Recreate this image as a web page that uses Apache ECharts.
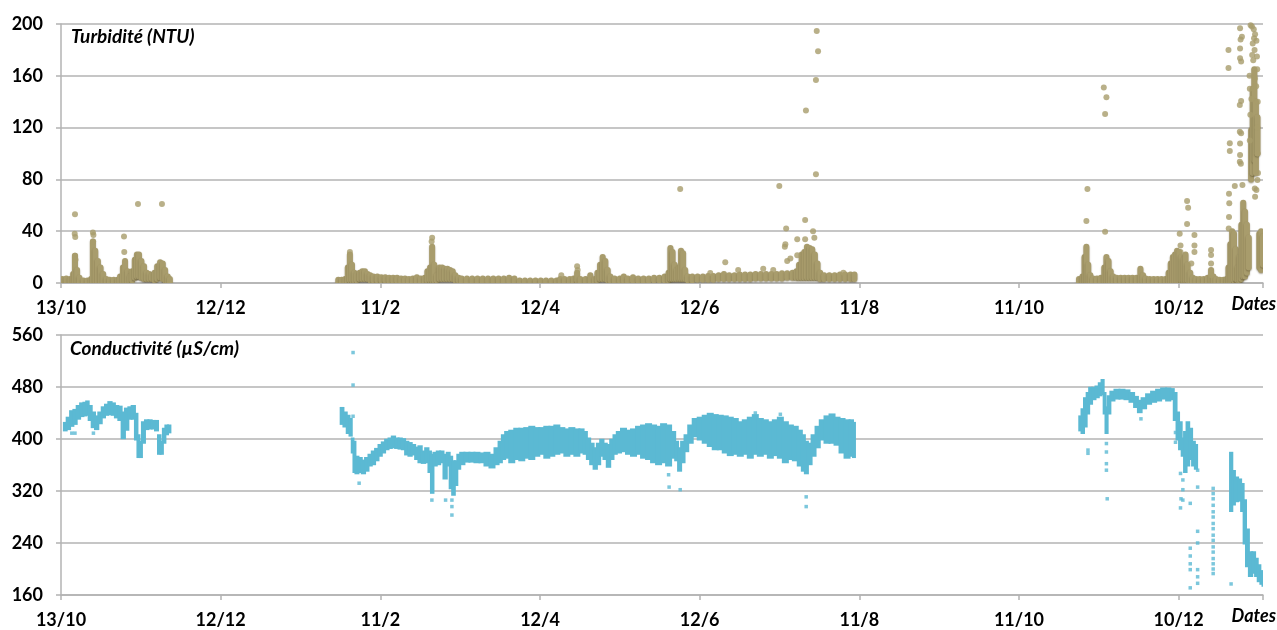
<!DOCTYPE html>
<html>
<head>
<meta charset="utf-8">
<script src="https://cdn.jsdelivr.net/npm/echarts@6/dist/echarts.min.js"></script>
<style>
html,body{margin:0;padding:0;background:#fff;}
#chart{width:1277px;height:630px;}
</style>
</head>
<body>
<div id="chart"></div>
<script>
// x values are days since 13/10
const xTickLabels = ['13/10','12/12','11/2','12/4','12/6','11/8','11/10','10/12'];
const xStep = 60.57;
const xMax = 456;
const turbTicks = [0, 200, 40];
const condTicks = [160, 560, 80];

// Turbidity: dense columns of dots [day, low, high]
const turbidityRanges = [
[0.5,1,3],[2,1,3.5],[3.5,1,3],[4.6,1,7],[5.3,1,21],[6.1,1,10],[7,0.5,4],[8.5,0.5,2],[10,0.5,2],[11.4,0.5,3],
[12.1,1,32],[13,1,25],[14,1,17],[15,1,12],[16,0.5,7],[17.2,0.5,3],[18.5,0.5,2.5],[20,0.5,2.5],[21.5,0.5,2.5],
[22.4,1,5],[23.5,1,12],[24.3,1,17],[25.3,1,9],[26.2,1,5],[27,2,9],[28,4,18],[28.8,5,22],[29.6,5,22],[30.5,4,17],
[31.5,3,13],[32.5,3,8],[33.5,3,7],[34.5,3,6],[35.5,2,8],[36.5,3,13],[37.6,4,16],[38.6,3,15],[39.5,2,10],[40.5,1,5],[41.3,1,3],
[105.2,0.5,2.5],[106.5,0.5,2.5],[107.8,0.5,3],[108.8,1,12],[109.6,2,22],[110.4,2,14],[111.3,2,8],[112.3,2,7],[113.3,3,8],
[114.3,3,9],[115.3,3,9],[116.3,3,7],[117.3,2,6],[118.5,2,5],[120,2,5],[121.5,2,4.5],[123,2,4.5],[124.5,1.5,4],[126,1.5,4],
[127.5,1.5,4],[129,1,3.5],[130.5,1,3.5],[132,0.5,3],[133.5,0.5,3.5],[135,1,4.5],[136.5,1,3.5],[138,1,4],[139,2,9],[140,2,12],
[140.8,2,28],[141.6,2,14],[142.6,2,6],[143.6,3,12],[144.6,3,12],[145.6,3,11],[146.6,3,11],[147.6,3,10],[148.6,3,9],[149.6,2,6],
[150.8,2,4],[152,1,3.5],[154,1,3.5],[156,1,3.5],[158,1,3.5],[160,1,3.5],[162,1,3.5],[164,1,3.5],[166,1,3.5],[168,1,3.5],
[170,1,4],[172,1,3.5],[174,0,2],[176,0,2],[178,0,2],[180,0,2],[182,0,2],[184,0,2],[186,0,2],[188,0,2],[189.4,1,3],
[191,1,3],[193,1,3],[194.5,1,3.5],[195.8,2,8],[197,1,3],[199,1,3],[200.8,1,6],[202.5,1,3],[203.5,2,8],[204.5,3,14],
[205.5,3,20],[206.5,3,17],[207.4,2,10],[208.4,2,5],[210,1.5,3.5],[212,1.5,3.5],[213.5,1.5,5],[215,1.5,3.5],[217,1.5,4.5],
[219,1.5,3.5],[221,1.5,3.5],[223,1.5,3.5],[225,2,4],[227,2,4],[229,2,5],[230.5,2,8],[231.2,3,27],[232,3,24],[232.8,3,14],
[233.6,3,10],[234.5,3,12],[235.2,3,25],[236,3,23],[236.8,3,10],[237.8,2,5],[239.5,2,5],[241.5,2.5,5],[243.5,2.5,5],
[245.5,2.5,5.5],[247.5,2.5,5.5],[249.5,3,6],[251.5,3,7],[253.5,3,6],[255.5,3,6],[257.5,3,6.5],[259.5,3,6.5],[261.5,3,6.5],
[263.5,3.5,7],[265.5,3.5,7],[267.5,3.5,7],[269.5,3.5,7],[271.5,3.5,7],[273.5,3.5,7.5],[275.5,4,7.5],[277.5,4,8],[279,4,9],
[280,4,14],[281,4,22],[282,4,24],[283,4,28],[284,4,27],[285,4,26],[286,4,22],[287,4,15],[288,3,8],[289.5,3,6],[291.5,3,6],
[293.5,3,6],[295.5,3,6.5],[297.5,3,6.5],[299.5,3,6.5],[301,3,6.5],
[386.2,0.5,3],[387.5,1,5],[388.3,1,20],[389,1,28],[389.7,1,14],[390.5,1,6],[391.5,0.5,3.5],[393,0.5,3.5],[394.5,1,4],
[395.8,1,12],[396.6,1,20],[397.4,1,17],[398.2,1,9],[399.2,1,5],[400.5,1.5,4],[402,1.5,4],[403.5,1.5,4],[405,1.5,4],
[406.5,1,4],[408,1,4],[409.5,1,11],[410.5,1,6],[411.5,1,3.5],[413,0.5,3],[414.5,0.5,3],[416,0.5,3],[417.5,0.5,3],[419,0.5,3],
[420.2,1,8],[421,1,15],[421.8,1,20],[422.6,1,22],[423.4,1,25],[424.2,1,24],[425,2,20],[425.8,2,18],[426.6,2,22],[427.4,2,14],
[428.4,1,8],[429.4,1,4],[430.6,0.5,3],[432,0.5,3],[433.5,0.5,3],[435,0.5,4],[436.3,1,10],[437.2,0.5,5],[438.2,0.5,3],
[439.6,0,2.5],[441,0,2.5],[442.2,0,3],
[442.9,0,12],[443.6,0,30],[444.3,1,40],[445,2,38],[445.7,3,26],[446.4,2,12],[447.1,2,20],[447.8,3,45],[448.5,5,62],
[449.2,5,55],[449.9,8,45],[450.6,12,35],[451.5,80,118],[452.1,85,150],[452.7,95,165],[453.3,85,140],[453.9,100,128],
[454.6,12,38],[455.3,10,40],[456,14,36]
];
// Turbidity: isolated dots [day, NTU]
const turbidityPoints = [
[5.3,53],[5.2,38],[5.4,35.5],[5.3,21],[5.5,18],[12.1,39],[12.3,37],[12.2,32],[23.9,36],[24,24],[29.2,61],[38.3,61],
[109.6,24],[140.8,35],[140.6,32],[189.8,6],[195.8,13],[196,10],[234.9,72.5],[252,16],[256.9,10],[266.4,11],[270.2,10],
[272.5,75],[274.6,28],[274.8,30],[275.1,42],[275.5,17],[276.7,19],[279.3,33.7],[279.3,21.4],[282.3,48.6],[282.3,33.7],
[282.6,133.3],[285.3,40],[285.8,35],[286.4,84],[286.4,156.8],[286.7,194.6],[287.2,179],[296.8,8],[246.3,7.7],
[389.4,72.6],[389,47.9],[395.6,151],[396.6,143.4],[396.1,130.5],[396.1,39.6],
[427.2,63.3],[427.6,58.2],[427.2,45.6],[424.4,38],[430,37],[430,29],[430,24],[424.7,29],[424.7,24],[428.8,15],
[436.3,25.5],[436.3,21.6],[436.3,15],[436.3,6],
[443,42],[443.1,51],[443.2,61.5],[443.1,69],[442.9,166],[442.9,180],[443.4,102],[443.4,108],[445.3,75],
[447.3,98.8],[447.2,93.7],[447.6,92],[447.3,107.8],[447.2,116.8],[447.7,115.6],[447.2,137.5],[447.7,140.5],
[447.3,173.5],[447.7,171],[447.3,181],[447.3,196.7],[448,190.2],[447.5,188],[448.2,75.7],
[451.3,199],[451.8,198],[452.5,196],[453,192],[452.1,185],[453.5,187],[452.8,180],[453.7,175],[450.9,160],[451,150],
[453.8,165],[454,140],[453.9,120],[454,100],[454.1,85],[452.9,73],[453.5,71.8],[453,66.6],[453.9,79.5],[451.2,130],[451,110],
[452.3,172],[452.9,158],[451.6,142],[453.4,152],[451.9,176],[452.6,189]
];

// Conductivity: dense band [day, low, high] in µS/cm
const conductivityRanges = [
[1.5,414,424],[2.8,416,432],[4.1,421,442],[5.3,424,444],[6.6,432,450],[7.9,436,454],[9.1,437,455],[10,438,457],[11,430,450],
[12.3,419,440],[13.5,416,434],[14.8,425,440],[16.1,434,448],[17.3,438,452],[18.6,439,456],[19.8,438,454],[21.1,434,450],
[22.4,430,449],[23.6,402,440],[24.9,415,446],[26.2,432,448],[27.4,432,450],[28.7,400,438],[29.3,373,405],[30.2,373,395],
[31.2,395,425],[32.5,416,428],[33.8,417,428],[35,417,427],[36.3,414,427],[37.3,378,405],[38.2,378,395],[39.1,395,415],
[40.1,408,420],[41.1,411,420],
[106.5,424,447],[107.8,420,440],[109,410,435],[109.9,406,430],[110.7,380,400],[111.2,350,395],[112.2,348,372],[113.5,350,370],
[114.7,348,366],[116,352,370],[117.3,360,375],[118.5,362,380],[119.8,368,384],[121.1,375,390],[122.3,380,394],[123.6,385,398],
[124.9,387,400],[126.1,388,403],[127.4,387,400],[128.7,386,400],[129.9,385,399],[131.2,377,395],[132.4,375,393],[133.7,377,390],
[135,370,386],[136.2,365,388],[137.5,364,380],[138.8,365,385],[140,350,380],[140.7,318,375],[141.9,360,378],[143.2,362,380],
[144.5,365,380],[145.7,340,375],[147,360,378],[147.9,325,372],[148.9,315,365],[149.9,330,365],[150.8,355,375],[152.1,362,378],
[154,366,378],[155.9,366,378],[157.8,365,378],[159.7,365,377],[161.6,360,378],[163.5,357,375],[165.4,362,385],[166.6,365,395],
[167.9,370,405],[169.1,372,410],[171,365,412],[172.9,370,415],[174.8,368,415],[176.7,372,416],[178.6,370,418],[180.5,375,416],
[182.4,378,416],[184.3,372,418],[186.2,375,418],[188.1,378,420],[190,380,416],[191.9,375,414],[193.8,378,416],[195.7,375,414],
[197.6,380,414],[198.9,378,410],[200.1,370,400],[201.4,362,392],[202.7,355,385],[203.9,362,392],[205.2,375,398],[206.4,370,392],
[207.7,358,390],[209,370,398],[210.2,378,405],[211.5,380,410],[213.4,382,415],[215.3,378,412],[217.2,375,414],[219.1,378,418],
[221,372,420],[222.9,370,422],[224.8,365,420],[226.7,362,418],[228.6,365,422],[230.5,360,420],[232.4,372,410],[233.6,368,395],
[234.6,352,385],[235.9,365,395],[237.2,382,405],[238.7,395,420],[240.6,405,430],[242.5,400,432],[244.4,395,435],[246.3,390,438],
[248.2,385,436],[250.1,385,435],[252,380,434],[253.9,376,432],[255.8,378,430],[257.7,375,425],[259.6,378,428],[261.5,372,432],
[263.4,378,436],[265.3,375,430],[267.2,378,428],[269.1,372,425],[271,376,428],[272.9,372,432],[274.8,365,425],[276.7,370,420],
[278.6,368,418],[280.4,360,412],[281.7,352,405],[282.7,348,395],[284,362,392],[285.5,375,405],[287,388,418],[288.7,400,428],
[290.6,395,434],[292.5,395,437],[294.4,392,432],[296.3,380,430],[298.2,372,428],[300.1,375,428],[300.8,373,424],
[386.7,414,434],[387.6,410,445],[388.6,420,462],[389.6,440,470],[390.5,455,478],[391.8,462,478],[393.1,465,480],[394.3,468,485],
[395.2,470,490],[395.9,440,470],[396.6,410,448],[397.5,440,465],[398.7,460,472],[400.6,463,475],[402.5,463,475],[404.4,462,474],
[406.3,458,470],[407.9,450,464],[409.2,442,458],[410.7,448,462],[412.6,455,468],[414.5,458,472],[416.4,460,475],[418.3,463,477],
[420.2,460,477],[421.5,462,476],[422.8,430,470],[423.6,400,440],[424.7,385,425],[425.6,375,400],[426.5,350,410],[427.5,360,425],
[428.5,370,415],[429.7,360,395],[430.6,355,390],
[443.9,290,378],[444.8,300,350],[445.9,305,340],[447.2,306,337],[448.2,290,330],[449.1,240,305],[450,205,260],[451.3,190,225],
[452.5,195,225],[453.5,190,215],[454.5,182,205],[455.5,178,196],[456.1,175,190]
];
// Conductivity: isolated readings [day, µS/cm]
const conductivityPoints = [
[4.1,409],[5.3,409],[12.3,409],[13.5,419],[110.8,533],[110.8,483],[110.8,435],[113.1,332],[140.7,306],[145.9,306],
[148.3,306],[148.3,296],[148.3,283],[230.5,345],[230.7,326],[234.9,322],[282.7,311],[282.7,296],[263.4,440],[272.9,438],
[389.6,383],[389.6,378],[396.6,393],[396.6,380],[396.6,362],[396.6,352],[396.9,308],[409.7,431],
[422.8,410],[422.8,395],[424.7,347],[424.7,294],[425.6,306],[425.6,337],[425.6,322],[424.9,308],
[428.4,301],[428.4,232],[428.4,220],[428.4,208],[428.4,199],[428.4,171],
[431.2,352],[431.2,326],[431.2,258],[431.2,240],[431.2,199],[431.2,188],[431.2,178],
[437.1,324],[437.1,316],[437.1,308],[437.1,298],[437.1,288],[437.1,280],[437.1,270],[437.1,262],[437.1,252],[437.1,244],
[437.1,234],[437.1,226],[437.1,216],[437.1,208],[437.1,200],[437.1,193],[443.9,177]
];

const turbColor = '#A89C6C';
const condColor = '#5BB9D3';
const labelFont = 'Lato';
const gridColor = '#b3b3b3';

const chart = echarts.init(document.getElementById('chart'), null, {renderer: 'canvas'});

function xLabel(v) {
  const k = Math.round(v / xStep);
  if (Math.abs(v - k * xStep) > 0.5) return '';
  return xTickLabels[k] || '';
}

function makeX(gridIndex) {
  return {
    type: 'value', gridIndex, min: 0, max: xMax, interval: xStep,
    name: 'Dates', nameLocation: 'end', nameGap: 13,
    nameTextStyle: {align: 'right', verticalAlign: 'top', padding: [12, 0, 0, 0],
      fontFamily: labelFont, fontSize: 18, fontWeight: 'bold', fontStyle: 'italic', color: '#000'},
    axisLine: {show: true, lineStyle: {color: gridColor, width: 1.5}},
    axisTick: {show: true, length: 5, lineStyle: {color: gridColor, width: 1.5}},
    axisLabel: {formatter: xLabel, margin: 16, fontFamily: labelFont, fontSize: 18, fontWeight: 'bold', color: '#000'},
    splitLine: {show: false}
  };
}
function makeY(gridIndex, t) {
  return {
    type: 'value', gridIndex, min: t[0], max: t[1], interval: t[2],
    axisLine: {show: true, lineStyle: {color: gridColor, width: 1.5}},
    axisTick: {show: true, length: 5, lineStyle: {color: gridColor, width: 1.5}},
    axisLabel: {margin: 18, fontFamily: labelFont, fontSize: 18, fontWeight: 'bold', color: '#000'},
    splitLine: {show: true, lineStyle: {color: gridColor, width: 1.5}}
  };
}

function turbRender(params, api) {
  const x = api.value(0);
  const top = api.coord([x, api.value(2)]);
  const bot = api.coord([x, api.value(1)]);
  const r = 3;
  return {type: 'rect', shape: {x: top[0] - r, y: top[1] - r, width: 2 * r, height: bot[1] - top[1] + 2 * r, r: r},
    style: {fill: turbColor, shadowColor: 'rgba(70,60,30,0.45)', shadowBlur: 1.5, shadowOffsetY: 1}};
}
function condRender(params, api) {
  const d = conductivityRanges, i = params.dataIndex;
  const x = d[i][0];
  const left = (i > 0 && x - d[i - 1][0] < 4) ? (x + d[i - 1][0]) / 2 : x - 0.4;
  const right = (i < d.length - 1 && d[i + 1][0] - x < 4) ? (x + d[i + 1][0]) / 2 : x + 0.4;
  const a = api.coord([left, d[i][2]]);
  const b = api.coord([right, d[i][1]]);
  return {type: 'rect', shape: {x: a[0] - 1, y: a[1] - 1.5, width: b[0] - a[0] + 2, height: b[1] - a[1] + 3},
    style: {fill: condColor}};
}

const titleStyle = {fontFamily: labelFont, fontSize: 19, fontWeight: 'bold', fontStyle: 'italic', color: '#000'};

chart.setOption({
  animation: false,
  backgroundColor: '#fff',
  title: [
    {text: 'Turbidité (NTU)', left: 71, top: 27, textStyle: titleStyle, padding: 0},
    {text: 'Conductivité (µS/cm)', left: 70, top: 339, textStyle: titleStyle, padding: 0}
  ],
  grid: [
    {left: 61, right: 14, top: 24, height: 259},
    {left: 61, right: 14, top: 335, height: 260}
  ],
  xAxis: [makeX(0), makeX(1)],
  yAxis: [makeY(0, turbTicks), makeY(1, condTicks)],
  series: [
    {type: 'custom', xAxisIndex: 0, yAxisIndex: 0, data: turbidityRanges, renderItem: turbRender, clip: true,
      encode: {x: 0, y: [1, 2]}},
    {type: 'scatter', xAxisIndex: 0, yAxisIndex: 0, data: turbidityPoints, symbol: 'circle', symbolSize: 6,
      itemStyle: {color: turbColor}},
    {type: 'custom', xAxisIndex: 1, yAxisIndex: 1, data: conductivityRanges, renderItem: condRender, clip: true,
      encode: {x: 0, y: [1, 2]}},
    {type: 'scatter', xAxisIndex: 1, yAxisIndex: 1, data: conductivityPoints, symbol: 'rect', symbolSize: 3.5,
      itemStyle: {color: condColor}}
  ]
});
</script>
</body>
</html>
